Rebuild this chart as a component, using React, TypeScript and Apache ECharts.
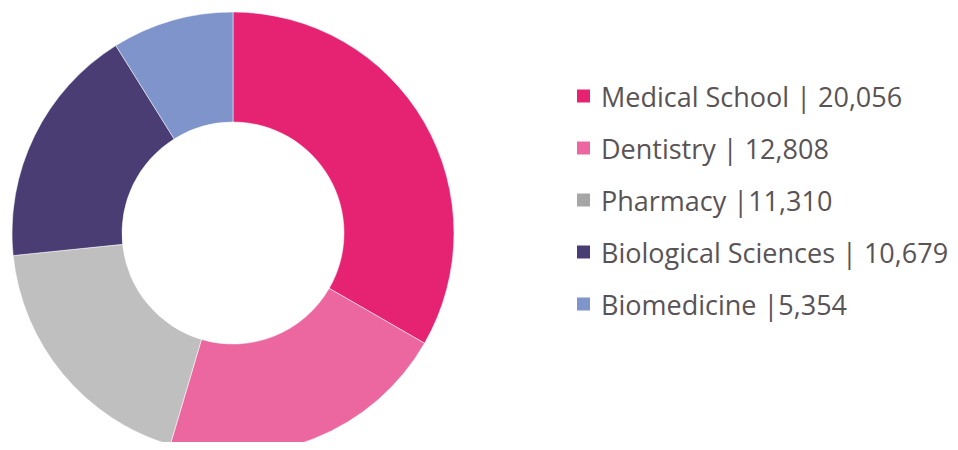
import React, { useEffect, useRef } from "react";
import * as echarts from "echarts";

const categories = ["Medical School", "Dentistry", "Pharmacy", "Biological Sciences", "Biomedicine"];
const values = [20056, 12808, 11310, 10679, 5354];
const legendLabels = [
  "Medical School | 20,056",
  "Dentistry | 12,808",
  "Pharmacy |11,310",
  "Biological Sciences | 10,679",
  "Biomedicine |5,354",
];
const sliceColors = ["#e62272", "#ec66a0", "#bfbfbf", "#493d73", "#7e94ca"];
const legendColors = ["#e62272", "#ec66a0", "#a6a6a6", "#493d73", "#7e94ca"];

export default function App() {
  const ref = useRef<HTMLDivElement>(null);
  useEffect(() => {
    const chart = echarts.init(ref.current!, null, { renderer: "svg" });
    chart.setOption({
      animation: false,
      legend: {
        orient: "vertical",
        left: 570,
        top: 76,
        itemWidth: 15,
        itemHeight: 15,
        itemGap: 22,
        icon: "rect",
        selectedMode: false,
        data: categories.map((c, i) => ({ name: c, itemStyle: { color: legendColors[i] } })),
        formatter: (name: string) => legendLabels[categories.indexOf(name)],
        textStyle: {
          fontFamily: "Open Sans",
          fontSize: 27,
          lineHeight: 30,
          color: "#595355",
          padding: [0, 0, 0, 5],
        },
      },
      series: [
        {
          type: "pie",
          center: [233, 233],
          radius: [111, 221],
          startAngle: 90,
          clockwise: true,
          label: { show: false },
          labelLine: { show: false },
          emphasis: { disabled: true },
          itemStyle: { borderColor: "#ffffff", borderWidth: 0.5 },
          data: categories.map((c, i) => ({
            name: c,
            value: values[i],
            itemStyle: { color: sliceColors[i] },
          })),
        },
      ],
    });
    return () => chart.dispose();
  }, []);
  return <div ref={ref} style={{ width: 958, height: 450, margin: -8 }} />;
}
